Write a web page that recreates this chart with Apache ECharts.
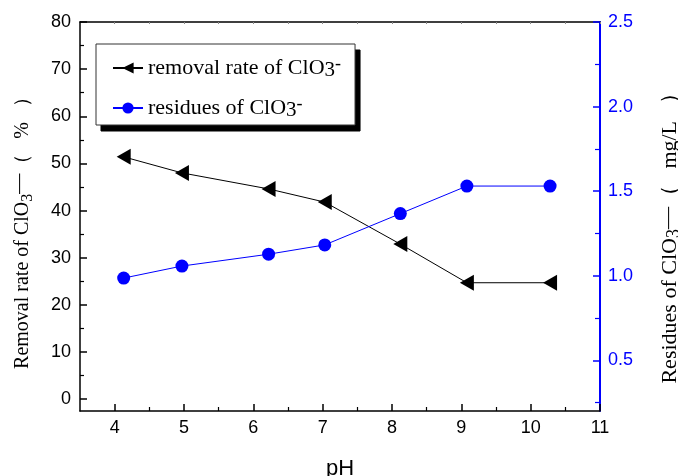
<!DOCTYPE html>
<html>
<head>
<meta charset="utf-8">
<script src="https://cdn.jsdelivr.net/npm/echarts@6/dist/echarts.min.js"></script>
<style>
  html, body { margin: 0; padding: 0; background: #fff; }
  #chart { width: 678px; height: 476px; }
</style>
</head>
<body>
<div id="chart"></div>
<script>
  // 数据
  const phValues = [4.13, 4.97, 6.22, 7.03, 8.12, 9.08, 10.28];
  const removalRate = [51.4, 48.0, 44.6, 41.8, 32.9, 24.7, 24.7];
  const residues = [0.986, 1.057, 1.127, 1.182, 1.367, 1.53, 1.53];

  // 刻度
  const xTicks = [4, 5, 6, 7, 8, 9, 10, 11];
  const xMinorTicks = [4.5, 5.5, 6.5, 7.5, 8.5, 9.5, 10.5];
  const leftTicks = [0, 10, 20, 30, 40, 50, 60, 70, 80];
  const leftMinorTicks = [5, 15, 25, 35, 45, 55, 65, 75];
  const rightTicks = [0.5, 1.0, 1.5, 2.0, 2.5];
  const rightMinorTicks = [0.25, 0.75, 1.25, 1.75, 2.25];

  const removalName = 'removal rate of ClO3-';
  const residueName = 'residues of ClO3-';

  const serif = 'Liberation Serif, Times New Roman, serif';
  const sans = 'Liberation Sans, Arial, sans-serif';
  const blue = '#0000ff';

  const chart = echarts.init(document.getElementById('chart'));

  function pairs(xs, ys) {
    return xs.map((x, i) => [x, ys[i]]);
  }

  // 轴名称的上下标样式
  function nameRich(size, gap) {
    return {
      a: { fontFamily: serif, fontSize: size, lineHeight: 26, color: '#000' },
      s: { fontFamily: serif, fontSize: size - 4, lineHeight: 14, verticalAlign: 'bottom', color: '#000' },
      p: { fontFamily: serif, fontSize: size, lineHeight: 16, verticalAlign: 'top', color: '#000' },
      g: { width: gap, lineHeight: 26 }
    };
  }

  // 图例（主体 + 阴影）
  function legendBox(isShadow) {
    const c = isShadow ? '#000' : null;
    const lg = {
      orient: 'vertical',
      left: isShadow ? 101 : 96,
      top: isShadow ? 50 : 44,
      z: isShadow ? 3 : 4,
      itemWidth: 30,
      itemHeight: 14,
      itemGap: 14,
      padding: [11, 14, 4, 16],
      backgroundColor: isShadow ? '#000' : '#fff',
      borderColor: isShadow ? '#000' : '#333',
      borderWidth: 1,
      borderRadius: 0,
      data: [removalName, residueName],
      formatter: function(name) {
        const base = name === removalName ? 'removal rate of ClO' : 'residues of ClO';
        return '{l|' + base + '}{s|3}{p|-}';
      },
      textStyle: {
        rich: {
          l: { fontFamily: serif, fontSize: 22, lineHeight: 26, color: '#000' },
          s: { fontFamily: serif, fontSize: 21, lineHeight: 14, verticalAlign: 'bottom', color: '#000' },
          p: { fontFamily: serif, fontSize: 18, lineHeight: 14, verticalAlign: 'top', color: '#000' }
        }
      }
    };
    if (isShadow) {
      lg.itemStyle = { color: c, borderColor: c };
      lg.lineStyle = { color: c };
      lg.selectedMode = false;
    }
    return lg;
  }

  chart.setOption({
    animation: false,
    backgroundColor: '#fff',
    grid: { left: 80, right: 78, top: 22, bottom: 65, containLabel: false, outerBoundsMode: 'none' },
    legend: [legendBox(true), legendBox(false)],
    xAxis: [
      {
        type: 'value', position: 'bottom', min: 3.5, max: 11,
        name: 'pH', nameLocation: 'middle', nameGap: 47,
        nameTextStyle: { fontFamily: sans, fontSize: 22, color: '#000' },
        axisLine: { onZero: false, lineStyle: { color: '#000', width: 1.5 } },
        axisTick: { inside: true, length: 7, customValues: xTicks, lineStyle: { color: '#000', width: 1.5 } },
        axisLabel: { customValues: xTicks, margin: 8, fontFamily: sans, fontSize: 18, color: '#000' },
        splitLine: { show: false }
      },
      {
        type: 'value', position: 'bottom', min: 3.5, max: 11,
        axisLine: { show: false, onZero: false },
        axisTick: { inside: true, length: 4, customValues: xMinorTicks, lineStyle: { color: '#000', width: 1.2 } },
        axisLabel: { show: false },
        splitLine: { show: false }
      },
      {
        type: 'value', position: 'top', min: 3.5, max: 11,
        axisLine: { onZero: false, lineStyle: { color: '#000', width: 1.5 } },
        axisTick: { inside: true, length: 2, customValues: xTicks.concat(xMinorTicks), lineStyle: { color: '#888', width: 1 } },
        axisLabel: { show: false },
        splitLine: { show: false }
      }
    ],
    yAxis: [
      {
        type: 'value', position: 'left', min: -2.5, max: 80,
        name: '{a|Removal rate of ClO}{s|3}{p|—}{a|（   %   ）}{g|}',
        nameLocation: 'middle', nameGap: 44,
        nameTextStyle: { rich: nameRich(20, 23) },
        axisLine: { onZero: false, lineStyle: { color: '#000', width: 1.5 } },
        axisTick: { inside: true, length: 7, customValues: leftTicks, lineStyle: { color: '#000', width: 1.5 } },
        axisLabel: { customValues: leftTicks, margin: 9, fontFamily: sans, fontSize: 18, color: '#000' },
        splitLine: { show: false }
      },
      {
        type: 'value', position: 'left', min: -2.5, max: 80,
        axisLine: { show: false, onZero: false },
        axisTick: { inside: true, length: 4, customValues: leftMinorTicks, lineStyle: { color: '#000', width: 1.2 } },
        axisLabel: { show: false },
        splitLine: { show: false }
      },
      {
        type: 'value', position: 'right', min: 0.2, max: 2.5,
        name: '{a|Residues of ClO}{s|3}{p|—}{a|（   mg/L   ）}{g|}',
        nameLocation: 'middle', nameGap: 57, nameRotate: 90,
        nameTextStyle: { rich: nameRich(22, 33) },
        axisLine: { onZero: false, lineStyle: { color: blue, width: 2 } },
        axisTick: { inside: true, length: 7, customValues: rightTicks, lineStyle: { color: blue, width: 1.5 } },
        axisLabel: {
          customValues: rightTicks, margin: 8, fontFamily: sans, fontSize: 18, color: blue,
          formatter: v => v.toFixed(1)
        },
        splitLine: { show: false }
      },
      {
        type: 'value', position: 'right', min: 0.2, max: 2.5,
        axisLine: { show: false, onZero: false },
        axisTick: { inside: true, length: 5, customValues: rightMinorTicks, lineStyle: { color: blue, width: 1.2 } },
        axisLabel: { show: false },
        splitLine: { show: false }
      }
    ],
    series: [
      {
        name: removalName,
        type: 'line',
        xAxisIndex: 0,
        yAxisIndex: 0,
        data: pairs(phValues, removalRate),
        symbol: 'triangle',
        symbolRotate: 90,
        symbolSize: [16, 14],
        itemStyle: { color: '#000' },
        lineStyle: { color: '#000', width: 1 },
        z: 3
      },
      {
        name: residueName,
        type: 'line',
        xAxisIndex: 0,
        yAxisIndex: 2,
        data: pairs(phValues, residues),
        symbol: 'circle',
        symbolSize: 13,
        itemStyle: { color: blue },
        lineStyle: { color: blue, width: 1 },
        z: 3
      }
    ]
  });
</script>
</body>
</html>
